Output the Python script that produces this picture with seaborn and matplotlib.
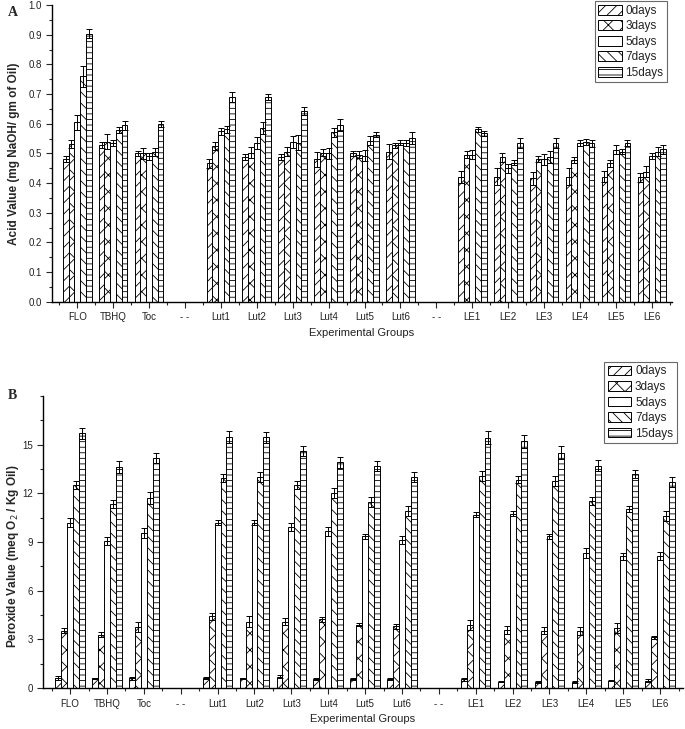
import numpy as np
import pandas as pd
import matplotlib
matplotlib.use('Agg')
import matplotlib.pyplot as plt
import seaborn as sns

# categories (gaps are empty slots shown as "--")
groups = ['FLO', 'TBHQ', 'Toc', 'gap1', 'Lut1', 'Lut2', 'Lut3', 'Lut4', 'Lut5', 'Lut6',
          'gap2', 'LE1', 'LE2', 'LE3', 'LE4', 'LE5', 'LE6']
tick_labels = ['FLO', 'TBHQ', 'Toc', '- -', 'Lut1', 'Lut2', 'Lut3', 'Lut4', 'Lut5', 'Lut6',
               '- -', 'LE1', 'LE2', 'LE3', 'LE4', 'LE5', 'LE6']
real_groups = ['FLO', 'TBHQ', 'Toc', 'Lut1', 'Lut2', 'Lut3', 'Lut4', 'Lut5', 'Lut6',
               'LE1', 'LE2', 'LE3', 'LE4', 'LE5', 'LE6']
days = ['0days', '3days', '5days', '7days', '15days']
hatches = ['///', 'xx', '', '\\\\\\', '---']

# acid value (mg NaOH / gm of oil), one list per storage day
acid_0 = [0.480, 0.530, 0.500, 0.467, 0.487, 0.487, 0.480, 0.500, 0.506, 0.422, 0.422, 0.416, 0.422, 0.422, 0.420]
acid_3 = [0.532, 0.540, 0.500, 0.525, 0.503, 0.506, 0.503, 0.495, 0.528, 0.495, 0.487, 0.481, 0.478, 0.467, 0.439]
acid_5 = [0.605, 0.535, 0.490, 0.575, 0.534, 0.540, 0.500, 0.493, 0.536, 0.495, 0.450, 0.480, 0.534, 0.512, 0.492]
acid_7 = [0.760, 0.580, 0.505, 0.582, 0.585, 0.536, 0.571, 0.543, 0.534, 0.581, 0.469, 0.487, 0.540, 0.506, 0.506]
acid_15 = [0.903, 0.595, 0.600, 0.690, 0.689, 0.643, 0.595, 0.563, 0.551, 0.568, 0.534, 0.536, 0.534, 0.536, 0.514]
acid_err_0 = [0.010, 0.010, 0.008, 0.015, 0.010, 0.010, 0.025, 0.008, 0.025, 0.020, 0.030, 0.022, 0.030, 0.018, 0.015]
acid_err_3 = [0.015, 0.025, 0.018, 0.015, 0.020, 0.015, 0.012, 0.012, 0.008, 0.012, 0.015, 0.010, 0.010, 0.012, 0.020]
acid_err_5 = [0.025, 0.010, 0.012, 0.012, 0.020, 0.020, 0.018, 0.018, 0.008, 0.015, 0.015, 0.018, 0.010, 0.015, 0.010]
acid_err_7 = [0.035, 0.010, 0.012, 0.012, 0.020, 0.025, 0.015, 0.015, 0.010, 0.008, 0.008, 0.020, 0.010, 0.008, 0.015]
acid_err_15 = [0.015, 0.015, 0.010, 0.017, 0.010, 0.012, 0.020, 0.008, 0.020, 0.008, 0.017, 0.017, 0.012, 0.010, 0.015]

# peroxide value (meq O2 / Kg oil)
perox_0 = [0.62, 0.60, 0.60, 0.62, 0.60, 0.70, 0.55, 0.55, 0.55, 0.55, 0.40, 0.37, 0.37, 0.47, 0.47]
perox_3 = [3.55, 3.30, 3.75, 4.42, 4.10, 4.10, 4.25, 3.90, 3.80, 3.90, 3.60, 3.55, 3.50, 3.70, 3.14]
perox_5 = [10.20, 9.04, 9.55, 10.20, 10.20, 9.90, 9.65, 9.35, 9.15, 10.68, 10.75, 9.35, 8.32, 8.12, 8.12]
perox_7 = [12.50, 11.36, 11.70, 12.94, 13.00, 12.50, 12.00, 11.45, 10.90, 13.05, 12.84, 12.74, 11.50, 11.03, 10.58]
perox_15 = [15.70, 13.62, 14.18, 15.47, 15.45, 14.60, 13.90, 13.66, 13.00, 15.41, 15.20, 14.49, 13.70, 13.21, 12.70]
perox_err_0 = [0.10, 0.05, 0.10, 0.05, 0.05, 0.10, 0.05, 0.05, 0.05, 0.10, 0.05, 0.05, 0.05, 0.05, 0.10]
perox_err_3 = [0.15, 0.15, 0.30, 0.20, 0.35, 0.20, 0.15, 0.10, 0.15, 0.30, 0.25, 0.20, 0.25, 0.30, 0.10]
perox_err_5 = [0.25, 0.25, 0.30, 0.15, 0.15, 0.25, 0.30, 0.15, 0.25, 0.15, 0.15, 0.15, 0.30, 0.20, 0.25]
perox_err_7 = [0.25, 0.25, 0.35, 0.25, 0.30, 0.25, 0.30, 0.30, 0.30, 0.30, 0.20, 0.30, 0.25, 0.20, 0.30]
perox_err_15 = [0.35, 0.35, 0.30, 0.35, 0.35, 0.30, 0.35, 0.30, 0.30, 0.40, 0.40, 0.40, 0.35, 0.25, 0.30]


def make_frame(series):
    rows = []
    for day, vals in zip(days, series):
        for g, v in zip(real_groups, vals):
            rows.append({'group': g, 'day': day, 'value': v})
    return pd.DataFrame(rows)


def draw_panel(ax, series, errors, xlim, legend_anchor):
    df = make_frame(series)
    sns.barplot(data=df, x='group', y='value', hue='day', order=groups, hue_order=days,
                palette=['white'] * len(days), edgecolor='black', linewidth=0.7,
                width=0.8, errorbar=None, legend=False, ax=ax)

    for container, hatch, errs in zip(ax.containers, hatches, errors):
        for bar in container.patches:
            bar.set_hatch(hatch)
            xc = bar.get_x() + bar.get_width() / 2
            name = groups[int(round(xc))]
            err = errs[real_groups.index(name)]
            ax.errorbar(xc, bar.get_height(), yerr=err, fmt='none', ecolor='black',
                        elinewidth=0.7, capsize=2, capthick=0.7)

    ax.set_xticks(range(len(groups)))
    ax.set_xticklabels(tick_labels)
    ax.set_xticks(np.arange(len(groups) + 1) - 0.5, minor=True)
    ax.set_xlim(*xlim)
    ax.set_xlabel('Experimental Groups', fontsize=8, color='#222222', labelpad=4)
    ax.tick_params(axis='both', which='major', direction='out', length=4, width=0.8,
                   labelsize=7, labelcolor='#222222')
    ax.tick_params(axis='both', which='minor', direction='out', length=2.5, width=0.8)
    sns.despine(ax=ax)
    for sp in ['left', 'bottom']:
        ax.spines[sp].set_linewidth(1.0)
        ax.spines[sp].set_color('black')

    leg = ax.legend(ax.containers, days, loc='upper right', bbox_to_anchor=legend_anchor,
                    fontsize=8.5, frameon=True, fancybox=False, edgecolor='#444444',
                    handlelength=2.0, handleheight=0.9, handletextpad=0.3,
                    labelspacing=0.3, borderpad=0.3, borderaxespad=0)
    leg.get_frame().set_linewidth(0.8)
    for t in leg.get_texts():
        t.set_color('#222222')


sns.set_style('ticks')
plt.rcParams['font.family'] = ['Liberation Sans', 'DejaVu Sans']
plt.rcParams['hatch.linewidth'] = 0.6

fig = plt.figure(figsize=(6.85, 7.29), dpi=100)

# Panel A: acid value
axA = fig.add_axes([0.076, 0.586, 0.905, 0.407])
draw_panel(axA, [acid_0, acid_3, acid_5, acid_7, acid_15],
           [acid_err_0, acid_err_3, acid_err_5, acid_err_7, acid_err_15],
           (-0.7, 16.56), (0.992, 1.013))
axA.set_ylim(0, 1.0)
axA.set_yticks(np.arange(0, 1.01, 0.1))
axA.set_yticks(np.arange(0, 1.01, 0.05), minor=True)
axA.set_yticklabels([f'{v:.1f}' for v in np.arange(0, 1.01, 0.1)])
axA.set_ylabel('Acid Value (mg NaOH/ gm of Oil)', fontsize=8.5, fontweight='bold', labelpad=6)

# Panel B: peroxide value
axB = fig.add_axes([0.063, 0.056, 0.934, 0.401])
draw_panel(axB, [perox_0, perox_3, perox_5, perox_7, perox_15],
           [perox_err_0, perox_err_3, perox_err_5, perox_err_7, perox_err_15],
           (-0.73, 16.62), (0.99, 1.116))
axB.set_ylim(0, 18)
axB.set_yticks(np.arange(0, 16, 3))
axB.set_yticks(np.arange(0, 18.1, 1.5), minor=True)
axB.set_ylabel('Peroxide Value (meq O$_2$ / Kg Oil)', fontsize=8.5, fontweight='bold')
axB.yaxis.set_label_coords(-0.034, 0.45)

fig.text(0.012, 0.983, 'A', fontsize=10, fontweight='bold', family='Liberation Serif', va='center')
fig.text(0.012, 0.458, 'B', fontsize=10, fontweight='bold', family='Liberation Serif', va='center')

fig.savefig('out.png', dpi=100)
